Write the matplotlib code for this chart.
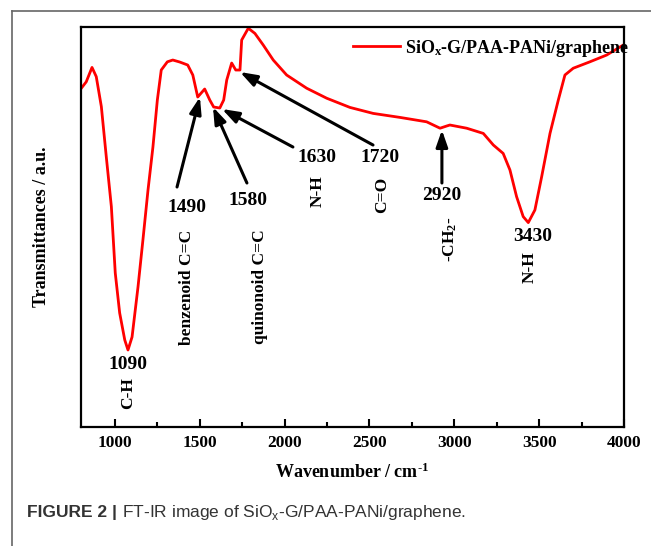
import matplotlib
matplotlib.use("Agg")
import matplotlib.pyplot as plt
from matplotlib.lines import Line2D

plt.rcParams['font.family'] = ['Liberation Serif', 'DejaVu Serif']
plt.rcParams['font.weight'] = 'bold'
plt.rcParams['mathtext.fontset'] = 'custom'
plt.rcParams['mathtext.rm'] = 'Liberation Serif:bold'
plt.rcParams['mathtext.it'] = 'Liberation Serif:bold'
plt.rcParams['mathtext.bf'] = 'Liberation Serif:bold'

# FT-IR spectrum (wavenumber, transmittance a.u.)
wavenumber = [802, 831, 865, 890, 920, 949, 979, 1002, 1028, 1058, 1077, 1101,
              1136, 1165, 1195, 1224, 1250, 1273, 1309, 1341, 1382, 1429, 1459,
              1488, 1529, 1559, 1582, 1618, 1641, 1659, 1688, 1712, 1737, 1747,
              1786, 1825, 1874, 1933, 2012, 2130, 2248, 2385, 2522, 2680, 2837,
              2916, 2955, 2974, 3073, 3171, 3230, 3288, 3328, 3367, 3406, 3436,
              3475, 3515, 3564, 3613, 3652, 3701, 3799, 3898, 3996, 4000]
transmittance = [84.7, 86.3, 89.9, 87.6, 80.1, 67.6, 55.1, 38.5, 28.5, 21.75,
                 19.25, 22.5, 35, 46.75, 59.25, 70, 81.75, 89.25, 91.3, 91.75,
                 91.25, 90.5, 88, 82.5, 84.5, 81.75, 80, 79.75, 81.75, 86.75, 91,
                 89.25, 89.25, 96.75, 99.7, 98.4, 95.5, 91.75, 88, 84.7, 82.2,
                 79.9, 78.4, 77.4, 76.3, 74.7, 75.25, 75.5, 74.7, 73.4, 70.5,
                 68.4, 64.25, 57.6, 52.6, 51.1, 54.25, 62.6, 73.4, 81.75, 88,
                 89.7, 91.3, 93, 95.5, 95.6]

# peak labels: (text, x, y)
peak_numbers = [("1090", 1077, 15.5), ("1490", 1425, 55), ("1580", 1784, 56.75),
                ("1630", 2191, 67.5), ("1720", 2562, 67.5), ("2920", 2927, 58),
                ("3430", 3463, 47.5)]
peak_groups = [("C-H", 1077, 8.5), ("benzenoid C=C", 1425, 35),
               ("quinonoid C=C", 1855, 35), ("N-H", 2197, 59), ("C=O", 2574, 58),
               ("-CH$_2$-", 2974, 47), ("N-H", 3446, 40)]
# arrows: (tail x, tail y, tip x, tip y)
arrows = [(1366, 60, 1501, 82.5), (1778, 61, 1578, 80), (2049, 70, 1631, 79.5),
          (2521, 70.5, 1737, 88.75), (2927, 61, 2927, 74.25)]

fig = plt.figure(figsize=(6.51, 5.46), dpi=100)
ax = fig.add_axes([0.1244, 0.218, 0.8341, 0.7325])

ax.plot(wavenumber, transmittance, color="red", lw=2.0,
        label="SiO$_x$-G/PAA-PANi/graphene")

for txt, x, y in peak_numbers:
    ax.text(x, y, txt, fontsize=14, fontweight="bold", ha="center", va="center")
for txt, x, y in peak_groups:
    ax.text(x, y, txt, fontsize=12.5, fontweight="bold", ha="center",
            va="center", rotation=90)
for x0, y0, x1, y1 in arrows:
    ax.annotate("", xy=(x1, y1), xytext=(x0, y0),
                arrowprops=dict(arrowstyle="-|>,head_length=1.0,head_width=0.35",
                                color="black", lw=2.2, shrinkA=0, shrinkB=0))

ax.set_xlim(800, 4000)
ax.set_ylim(0, 100)
ax.set_xticks([1000, 1500, 2000, 2500, 3000, 3500, 4000])
ax.set_xticks([1250, 1750, 2250, 2750, 3250, 3750], minor=True)
ax.set_yticks([])
ax.tick_params(axis="x", which="major", direction="in", length=6, width=1.5,
               labelsize=12.5, pad=6)
ax.tick_params(axis="x", which="minor", direction="in", length=3.5, width=1.5)
for s in ax.spines.values():
    s.set_linewidth(1.6)

ax.set_xlabel(r"Wavenumber / cm$^{\text{-1}}$", fontsize=13, fontweight="bold",
              labelpad=8)
ax.set_ylabel("Transmittances / a.u.", fontsize=13, fontweight="bold", labelpad=22)

ax.legend(loc="center right", bbox_to_anchor=(1.01, 0.9475), frameon=False,
          fontsize=13, handlelength=2.6, handletextpad=0.3, borderpad=0,
          borderaxespad=0)

# page frame and caption
fig.add_artist(Line2D([12 / 651, 1], [1 - 11 / 546, 1 - 11 / 546],
                      color="#666666", lw=1.2))
fig.add_artist(Line2D([12 / 651, 12 / 651], [0, 1 - 11 / 546],
                      color="#666666", lw=1.2))
cap_font = ["Liberation Sans Narrow", "Liberation Sans"]
head = fig.text(27 / 651, 1 - 513 / 546, "FIGURE 2 | ", fontsize=12.5,
                color="#333333", va="center", family=cap_font, fontweight="bold")
renderer = fig.canvas.get_renderer()
bb = head.get_window_extent(renderer)
fig.text(bb.x1 / fig.bbox.width, 1 - 513 / 546,
         "FT-IR image of SiO$_\\mathregular{x}$-G/PAA-PANi/graphene.",
         fontsize=12.5, color="#333333", va="center", family=cap_font,
         fontweight="normal", math_fontfamily="dejavusans")

fig.savefig("out.png", dpi=100)
